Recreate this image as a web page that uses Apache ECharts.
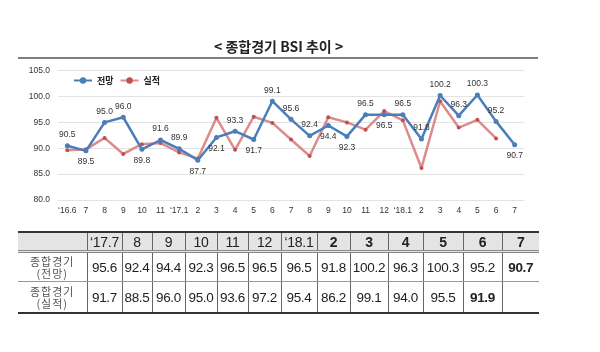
<!DOCTYPE html>
<html>
<head>
<meta charset="utf-8">
<script src="https://cdn.jsdelivr.net/npm/echarts@6/dist/echarts.min.js"></script>
<style>
  html, body { margin: 0; padding: 0; background: #fff; }
  #wrap { position: relative; width: 600px; height: 352px; }
  #chart { position: absolute; left: 0; top: 0; width: 600px; height: 352px; }
  #tbl {
    position: absolute; left: 18px; top: 231px; width: 521px;
    border-collapse: collapse; table-layout: fixed;
    font-family: "Liberation Sans", Arial, sans-serif; color: #222;
  }
  #tbl td { text-align: center; padding: 0; border-left: 1px solid #666; font-size: 13.5px; letter-spacing: -0.3px; }
  #tbl td:first-child { border-left: none; }
  #tbl tr.head td { background: #e4e4e4; height: 17px; border-top: 2px solid #333; border-bottom: 3px double #888; font-size: 14px; }
  #tbl tr.r1 td { height: 28px; border-bottom: 1px solid #999; }
  #tbl tr.r2 td { height: 30px; border-bottom: 2px solid #333; }
  #tbl td.lab { font-family: "Noto Sans CJK KR", sans-serif; font-size: 11px; line-height: 12px; color: #555; letter-spacing: 1px; }
  #tbl td.b { font-weight: bold; }
</style>
</head>
<body>
<div id="wrap">
  <div id="chart"></div>
  <table id="tbl"></table>
</div>
<script>
// x축 라벨
const months = ["‘16.6", "7", "8", "9", "10", "11", "‘17.1", "2", "3", "4", "5", "6",
  "7", "8", "9", "10", "11", "12", "‘18.1", "2", "3", "4", "5", "6", "7"];
// 전망
const forecast = [90.5, 89.5, 95.0, 96.0, 89.8, 91.6, 89.9, 87.7, 92.1, 93.3, 91.7, 99.1,
  95.6, 92.4, 94.4, 92.3, 96.5, 96.5, 96.5, 91.8, 100.2, 96.3, 100.3, 95.2, 90.7];
// 실적
const actual = [89.6, 89.8, 92.0, 88.9, 90.8, 91.0, 89.2, 88.0, 95.9, 89.7, 96.1, 94.9,
  91.7, 88.5, 96.0, 95.0, 93.6, 97.2, 95.4, 86.2, 99.1, 94.0, 95.5, 91.9, null];
// 표 헤더
const tableCols = ["‘17.7", "8", "9", "10", "11", "12", "‘18.1", "2", "3", "4", "5", "6", "7"];
const tableStart = 12;

// label placement (style only)
const labelPos = ["top", "bottom", "top", "top", "bottom", "top", "top", "bottom", "bottom", "top", "bottom", "top",
  "top", "top", "bottom", "bottom", "top", "bottom", "top", "top", "top", "top", "top", "top", "bottom"];

const blue = "#4a7ebb";
const red = "#c0504d";

const myChart = echarts.init(document.getElementById("chart"));
const config = {
  animation: false,
  title: {
    text: "< 종합경기 BSI 추이 >",
    left: 209,
    top: 35,
    textStyle: { fontFamily: "Noto Sans CJK KR", fontSize: 14, fontWeight: "bold", color: "#222" },
  },
  graphic: [
    { type: "line", shape: { x1: 18, y1: 58, x2: 538, y2: 58 }, style: { stroke: "#555", lineWidth: 1.5 } },
  ],
  legend: {
    left: 68,
    top: 71,
    itemWidth: 18,
    itemHeight: 8,
    itemGap: 6,
    textStyle: { fontFamily: "Noto Sans CJK KR", fontSize: 9, color: "#222", fontWeight: "bold" },
    data: ["전망", "실적"],
  },
  grid: { left: 58, right: 76, top: 70.7, bottom: 152 },
  xAxis: {
    type: "category",
    data: months,
    axisLine: { show: false },
    axisTick: { show: false },
    axisLabel: { interval: 0, fontFamily: "Liberation Sans", fontSize: 8.5, color: "#333", margin: 6 },
  },
  yAxis: {
    type: "value",
    min: 80,
    max: 105,
    interval: 5,
    axisLine: { show: false },
    axisTick: { show: false },
    splitLine: { lineStyle: { color: "#e3e3e3" } },
    axisLabel: {
      fontFamily: "Liberation Sans", fontSize: 8.5, color: "#333", margin: 8,
      formatter: (v) => v.toFixed(1),
    },
  },
  series: [
    {
      name: "실적",
      type: "line",
      data: actual,
      z: 2,
      symbol: "circle",
      symbolSize: 4,
      itemStyle: { color: red },
      lineStyle: { color: "rgba(214,120,122,0.85)", width: 2.5 },
    },
    {
      name: "전망",
      type: "line",
      data: forecast.map((v, i) => ({ value: v, label: { position: labelPos[i] } })),
      z: 3,
      symbol: "circle",
      symbolSize: 5,
      itemStyle: { color: blue },
      lineStyle: { color: blue, width: 2.5 },
      label: {
        show: true,
        fontFamily: "Liberation Sans",
        fontSize: 8.5,
        color: "#333",
        distance: 4,
        formatter: (p) => p.value.toFixed(1),
      },
    },
  ],
};
myChart.setOption(config);

// 하단 표
const colW = [69, 35, 30, 33, 32, 31, 33, 36, 33, 38, 35, 40, 39, 37];
const boldHead = (i) => i >= 7;
const fmt = (v) => (v == null ? "" : v.toFixed(1));
const fc = forecast.slice(tableStart);
const ac = actual.slice(tableStart);
let html = "<colgroup>" + colW.map((w) => `<col style="width:${w}px">`).join("") + "</colgroup>";
html += '<tr class="head"><td></td>' + tableCols.map((c, i) => `<td${boldHead(i) ? ' class="b"' : ""}>${c}</td>`).join("") + "</tr>";
html += '<tr class="r1"><td class="lab">종합경기<br>(전망)</td>' +
  fc.map((v, i) => `<td${i === fc.length - 1 ? ' class="b"' : ""}>${fmt(v)}</td>`).join("") + "</tr>";
const lastAc = ac.filter((v) => v != null).length - 1;
html += '<tr class="r2"><td class="lab">종합경기<br>(실적)</td>' +
  ac.map((v, i) => `<td${i === lastAc ? ' class="b"' : ""}>${fmt(v)}</td>`).join("") + "</tr>";
document.getElementById("tbl").innerHTML = html;
</script>
</body>
</html>
